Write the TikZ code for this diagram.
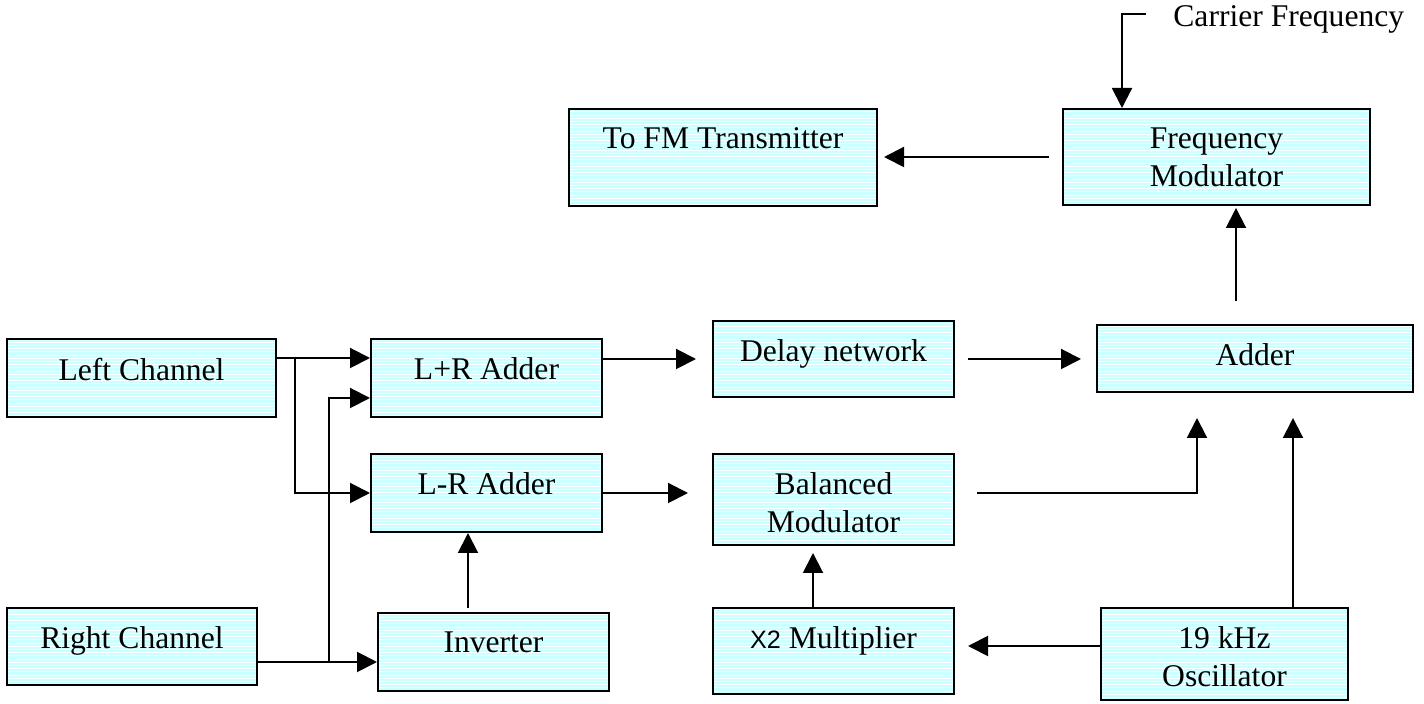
\documentclass[tikz,border=0pt]{standalone}
\usepackage{fontspec}
\setmainfont{Liberation Serif}
\newfontfamily\arialx{Liberation Sans}
\usetikzlibrary{arrows.meta,patterns.meta,fit}

\definecolor{boxcyan}{RGB}{204,255,255}
\tikzset{
    blk/.style={draw, line width=1pt, inner sep=0pt, preaction={fill=boxcyan},
        pattern={Lines[angle=0,distance=1.6pt,line width=0.5pt]}, pattern color=white},
    lbl/.style={anchor=north, inner sep=0pt, align=center, font=\fontsize{15.8}{19}\selectfont},
    sig/.style={line width=1pt, -{Triangle[length=10pt,width=10pt]}},
}

\begin{document}
\begin{tikzpicture}[x=0.5pt, y=-0.5pt]
    \useasboundingbox (0,0) rectangle (1424,704);
    % blocks
    \node[blk, fit={(7,339) (276,417)}] (lch) {};
    \node[blk, fit={(7,608) (257,685)}] (rch) {};
    \node[blk, fit={(371,339) (602,417)}] (lpr) {};
    \node[blk, fit={(371,454) (602,532)}] (lmr) {};
    \node[blk, fit={(378,613) (609,691)}] (inv) {};
    \node[blk, fit={(713,321) (954,397)}] (dly) {};
    \node[blk, fit={(713,454) (954,545)}] (bal) {};
    \node[blk, fit={(713,608) (954,694)}] (mul) {};
    \node[blk, fit={(1097,325) (1413,392)}] (add) {};
    \node[blk, fit={(1101,608) (1348,700)}] (osc) {};
    \node[blk, fit={(1063,109) (1370,205)}] (fm) {};
    \node[blk, fit={(569,109) (877,206)}] (tfm) {};
    % texts
    \node[lbl] (lchT) at ([yshift=-9.5pt]lch.north) {Left Channel};
    \node[lbl] (rchT) at ([yshift=-9.5pt]rch.north) {Right Channel};
    \node[lbl] (lprT) at ([yshift=-9.5pt]lpr.north) {L+R Adder};
    \node[lbl] (lmrT) at ([yshift=-9.5pt]lmr.north) {L-R Adder};
    \node[lbl] (invT) at ([yshift=-9.5pt]inv.north) {Inverter};
    \node[lbl] (dlyT) at ([yshift=-9.5pt]dly.north) {Delay network};
    \node[lbl] (balT) at ([yshift=-9.5pt]bal.north) {Balanced\\Modulator};
    \node[lbl] (mulT) at ([yshift=-9.5pt]mul.north) {{\arialx\fontsize{12.6}{15}\selectfont X2} Multiplier};
    \node[lbl] (addT) at ([yshift=-9.5pt]add.north) {Adder};
    \node[lbl] (oscT) at ([yshift=-9.5pt]osc.north) {19 kHz\\Oscillator};
    \node[lbl] (fmT) at ([yshift=-9.5pt]fm.north) {Frequency\\Modulator};
    \node[lbl] (tfmT) at ([yshift=-9.5pt]tfm.north) {To FM Transmitter};
    \node[lbl, anchor=base west] (carrT) at (1173,27) {Carrier Frequency};
    % split points and free ends
    \coordinate (lsplit) at (295,358);
    \coordinate (rsplit) at (329,662);
    \coordinate (invout) at (468,608);
    \coordinate (balout) at (977,493);
    \coordinate (carr) at (1146,14);
    % signals
    \draw[sig] (lch.east |- 0,358) -- (lpr.west |- 0,358);
    \draw[sig] (lsplit) |- (lmr.west);
    \draw[sig] (rch.east |- 0,662) -- (inv.west |- 0,662);
    \draw[sig] (rsplit) |- (lpr.west |- 0,398);
    \draw[sig] (invout) -- (invout |- lmr.south);
    \draw[sig, shorten >=8pt] (lpr.east |- dly.west) -- (dly.west);
    \draw[sig, shorten >=12pt] (lmr.east) -- (bal.west |- lmr.east);
    \draw[sig, shorten <=6.5pt, shorten >=7.5pt] (dly.east) -- (add.west |- dly.east);
    \draw[sig, shorten >=12.5pt] (balout) -| (add.south -| 1197,0);
    \draw[sig, shorten >=12.5pt] (osc.north -| 1293,0) -- (add.south -| 1293,0);
    \draw[sig, shorten >=6.5pt] (osc.west |- 0,646) -- (mul.east |- 0,646);
    \draw[sig, shorten >=3.5pt] (mul.north -| 813,0) -- (bal.south -| 813,0);
    \draw[sig, shorten <=11.5pt, shorten >=1pt] (add.north -| 1236,0) -- (fm.south -| 1236,0);
    \draw[sig, shorten <=6.5pt, shorten >=3pt] (fm.west) -- (tfm.east |- fm.west);
    \draw[sig] (carr) -| (fm.north -| 1122,0);
\end{tikzpicture}
\end{document}
